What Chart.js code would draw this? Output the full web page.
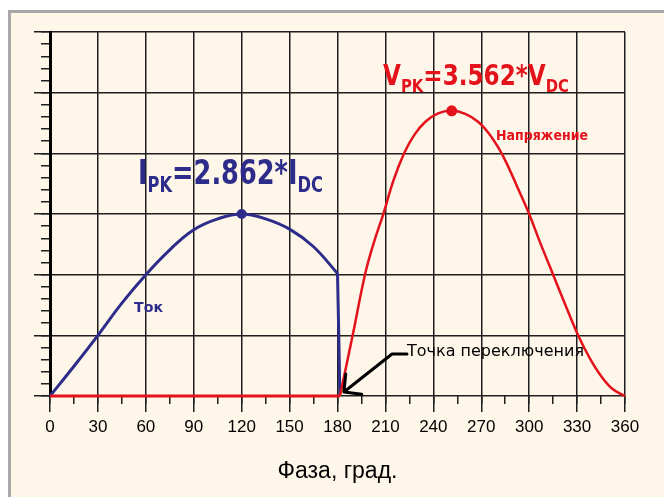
<!DOCTYPE html>
<html>
<head>
<meta charset="utf-8">
<script src="https://cdn.jsdelivr.net/npm/chart.js@4/dist/chart.umd.min.js"></script>
<style>
  body { margin: 0; background: #fff; }
  #frame {
    position: absolute; left: 8px; top: 10px; width: 656px; height: 487px;
    box-sizing: border-box; background: #fef6e9;
    border-left: 3px solid #a8a8a8; border-top: 3px solid #a8a8a8;
  }
  #phaseChart { position: absolute; left: 0; top: 0; }
</style>
</head>
<body>
<div id="frame"></div>
<canvas id="phaseChart" width="664" height="497"></canvas>
<script>
// Ток (current)
const phaseI   = [0, 15, 30, 45, 60, 75, 90, 105, 120, 135, 150, 165, 180];
const currentI = [0, 0.49, 1.0, 1.53, 2.0, 2.41, 2.74, 2.92, 3.0, 2.92, 2.75, 2.46, 2.02];
// switch-off edge of the current
const phaseIDrop   = [180, 180.8, 181.5];
const currentIDrop = [2.02, 1.0, 0];

// Напряжение (voltage)
const phaseVZero   = [0, 181.5];
const voltageVZero = [0, 0];
const phaseV   = [181.5, 189.5, 197.2, 203, 208.7, 215, 221.7, 228, 235, 243, 251.5, 260, 268, 275, 281, 286, 293, 300, 307, 315, 323, 331, 338, 345, 352, 360];
const voltageV = [0, 1.0, 2.0, 2.55, 3.0, 3.55, 4.0, 4.3, 4.52, 4.66, 4.70, 4.65, 4.52, 4.32, 4.08, 3.83, 3.42, 3.0, 2.52, 2.0, 1.48, 0.98, 0.62, 0.33, 0.12, 0];

// peaks
const peakI = { x: 120, y: 3.0 };
const peakV = { x: 251.5, y: 4.70 };

const xTicks = [0, 30, 60, 90, 120, 150, 180, 210, 240, 270, 300, 330, 360];

const BLUE = '#2e2c8a';
const RED = '#e3121b';
const GRID = '#1e1e1e';

const toPoints = (xs, ys) => xs.map((x, i) => ({ x: x, y: ys[i] }));

// text with sub-parts, squeezed to a given width
function rich(ctx, parts, x, y, width, color, weight) {
  let total = 0;
  parts.forEach(p => {
    ctx.font = `${weight} ${p[1]}px "DejaVu Sans"`;
    total += ctx.measureText(p[0]).width;
  });
  ctx.save();
  ctx.translate(x, y);
  ctx.scale(width / total, 1);
  ctx.fillStyle = color;
  ctx.textBaseline = 'alphabetic';
  let cx = 0;
  parts.forEach(p => {
    ctx.font = `${weight} ${p[1]}px "DejaVu Sans"`;
    ctx.fillText(p[0], cx, p[2]);
    cx += ctx.measureText(p[0]).width;
  });
  ctx.restore();
}

const labelPlugin = {
  id: 'labels',
  afterDatasetsDraw(chart) {
    const ctx = chart.ctx;
    rich(ctx, [['I', 33, 0], ['PK', 21, 8], ['=2.862*I', 33, 0], ['DC', 21, 8]], 138, 184, 185, BLUE, 'bold');
    rich(ctx, [['V', 28, 0], ['PK', 18, 7], ['=3.562*V', 28, 0], ['DC', 18, 7]], 383, 85, 186, RED, 'bold');
    rich(ctx, [['Напряжение', 13.5, 0]], 496, 140, 92, RED, 'bold');
    rich(ctx, [['Ток', 14, 0]], 134, 312, 29, BLUE, 'bold');
    rich(ctx, [['Точка переключения', 16.5, 0]], 407, 356, 177, '#000', 'normal');

    // arrow to the switching point
    const tipX = chart.scales.x.getPixelForValue(181.5) + 4;
    const tipY = chart.scales.y.getPixelForValue(0) - 4;
    ctx.save();
    ctx.strokeStyle = '#000';
    ctx.lineWidth = 3;
    ctx.lineCap = 'round';
    ctx.lineJoin = 'round';
    ctx.beginPath();
    ctx.moveTo(407, 354);
    ctx.lineTo(392, 354);
    ctx.lineTo(tipX, tipY);
    const ang = Math.atan2(354 - tipY, 392 - tipX);
    [-0.8, 0.8].forEach(a => {
      ctx.moveTo(tipX, tipY);
      ctx.lineTo(tipX + 18 * Math.cos(ang + a), tipY + 18 * Math.sin(ang + a));
    });
    ctx.stroke();
    ctx.restore();
  }
};

const lineSet = (pts, color, width, order, tension) => ({
  data: pts,
  borderColor: color,
  borderWidth: width,
  pointRadius: 0,
  tension: tension,
  clip: false,
  order: order
});

const ctx = document.getElementById('phaseChart').getContext('2d');
const phaseChart = new Chart(ctx, {
  type: 'line',
  data: {
    datasets: [
      lineSet(toPoints(phaseVZero, voltageVZero), RED, 3, 2, 0),
      lineSet(toPoints(phaseV, voltageV), RED, 2.5, 2, 0.4),
      lineSet(toPoints(phaseI, currentI), BLUE, 3, 3, 0.4),
      lineSet(toPoints(phaseIDrop, currentIDrop), BLUE, 3, 3, 0),
      {
        data: [peakI],
        showLine: false,
        pointRadius: 5,
        pointBackgroundColor: BLUE,
        pointBorderWidth: 0,
        order: 1
      },
      {
        data: [peakV],
        showLine: false,
        pointRadius: 5.5,
        pointBackgroundColor: RED,
        pointBorderWidth: 0,
        order: 1
      }
    ]
  },
  options: {
    responsive: false,
    animation: false,
    layout: { padding: { top: 32, right: 39, left: 0, bottom: 0 } },
    plugins: {
      legend: { display: false },
      tooltip: { enabled: false }
    },
    scales: {
      x: {
        type: 'linear',
        min: 0,
        max: 360,
        weight: 1,
        afterBuildTicks: scale => { scale.ticks = xTicks.map(v => ({ value: v })); },
        afterFit: scale => { scale.height = 101; },
        grid: { color: GRID, lineWidth: 1.5, tickLength: 16, tickColor: GRID },
        border: { display: false },
        ticks: {
          color: '#000',
          padding: 5,
          maxRotation: 0,
          font: { family: 'Liberation Sans', size: 17 }
        },
        title: {
          display: true,
          text: 'Фаза, град.',
          color: '#000',
          font: { family: 'Liberation Sans', size: 23 },
          padding: { top: 0, bottom: 12 }
        }
      },
      xMinor: {
        type: 'linear',
        position: 'bottom',
        min: 0,
        max: 360,
        weight: 0,
        afterFit: scale => { scale.height = 0; },
        ticks: { display: false, stepSize: 15 },
        grid: { drawOnChartArea: false, tickLength: 8, color: GRID, lineWidth: 1.5 },
        border: { display: false }
      },
      y: {
        min: 0,
        max: 6,
        weight: 1,
        afterFit: scale => { scale.width = 50; },
        ticks: { display: false, stepSize: 1 },
        grid: { color: GRID, lineWidth: 1.5, tickLength: 16 },
        border: { color: '#000', width: 3 }
      },
      yMinor: {
        position: 'left',
        min: 0,
        max: 6,
        weight: 0,
        afterFit: scale => { scale.width = 0; },
        ticks: { display: false, stepSize: 0.2 },
        grid: { drawOnChartArea: false, tickLength: 9, color: GRID, lineWidth: 1.5 },
        border: { display: false }
      }
    }
  },
  plugins: [labelPlugin]
});
</script>
</body>
</html>
